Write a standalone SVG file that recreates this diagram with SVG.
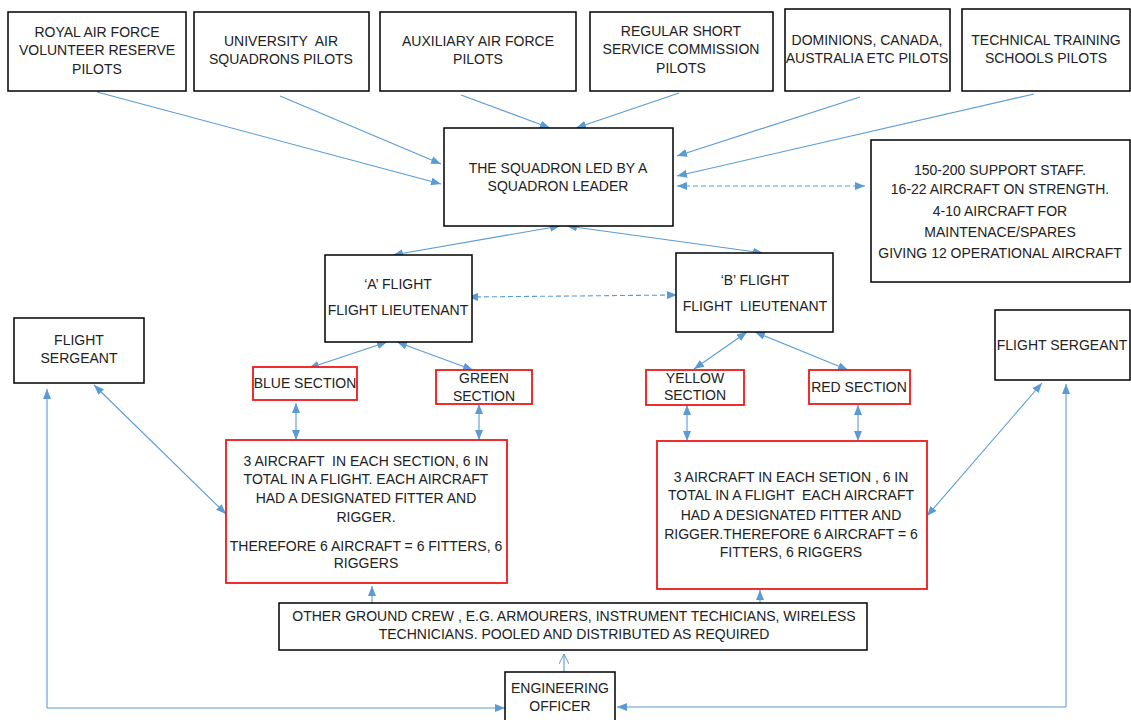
<svg xmlns="http://www.w3.org/2000/svg" width="1131" height="720" viewBox="0 0 1131 720">
  <style>
    text { font-family: "Liberation Sans", Arial, sans-serif; font-size: 14px; fill: #222; text-anchor: middle; }
    .box { fill: #fff; stroke: #000; stroke-width: 1.5; }
    .rbox { fill: #fff; stroke: #f01818; stroke-width: 1.8; }
    .ln { fill: none; stroke: #5b9bd5; stroke-width: 1.1; }
    .dash { stroke-dasharray: 5 3; }
    .pre { white-space: pre; }
  </style>
  <defs>
    <marker id="ah" viewBox="0 0 10 8" refX="10" refY="4" markerWidth="10" markerHeight="8" markerUnits="userSpaceOnUse" orient="auto-start-reverse">
      <path d="M0,0 L10,4 L0,8 Z" fill="#5b9bd5"/>
    </marker>
    <marker id="open" viewBox="0 0 10 10" refX="10" refY="5" markerWidth="10" markerHeight="10" markerUnits="userSpaceOnUse" orient="auto">
      <path d="M0,0 L10,5 L0,10" fill="none" stroke="#5b9bd5" stroke-width="1"/>
    </marker>
  </defs>

  <!-- connectors -->
  <g id="connectors">
    <line class="ln" x1="97" y1="92" x2="441" y2="184" marker-end="url(#ah)"/>
    <line class="ln" x1="280" y1="96" x2="441" y2="164" marker-end="url(#ah)"/>
    <line class="ln" x1="461" y1="95" x2="550" y2="128" marker-end="url(#ah)"/>
    <line class="ln" x1="679" y1="93" x2="576" y2="128" marker-end="url(#ah)"/>
    <line class="ln" x1="860" y1="97" x2="677" y2="156" marker-end="url(#ah)"/>
    <line class="ln" x1="1034" y1="94" x2="677" y2="176" marker-end="url(#ah)"/>
    <line class="ln dash" x1="677" y1="186" x2="865" y2="186" marker-start="url(#ah)" marker-end="url(#ah)"/>
    <line class="ln" x1="560" y1="226" x2="393" y2="255" marker-start="url(#ah)" marker-end="url(#ah)"/>
    <line class="ln" x1="567" y1="226" x2="763" y2="253" marker-start="url(#ah)" marker-end="url(#ah)"/>
    <line class="ln dash" x1="468" y1="297" x2="677" y2="295" marker-start="url(#ah)" marker-end="url(#ah)"/>
    <line class="ln" x1="387" y1="342" x2="309" y2="368" marker-start="url(#ah)" marker-end="url(#ah)"/>
    <line class="ln" x1="397" y1="342" x2="473" y2="370" marker-start="url(#ah)" marker-end="url(#ah)"/>
    <line class="ln" x1="296" y1="403" x2="296" y2="440" marker-start="url(#ah)" marker-end="url(#ah)"/>
    <line class="ln" x1="479" y1="404" x2="479" y2="440" marker-start="url(#ah)" marker-end="url(#ah)"/>
    <line class="ln" x1="747" y1="332" x2="694" y2="369" marker-start="url(#ah)" marker-end="url(#ah)"/>
    <line class="ln" x1="755" y1="332" x2="848" y2="370" marker-start="url(#ah)" marker-end="url(#ah)"/>
    <line class="ln" x1="687" y1="405" x2="687" y2="441" marker-start="url(#ah)" marker-end="url(#ah)"/>
    <line class="ln" x1="858" y1="405" x2="858" y2="441" marker-start="url(#ah)" marker-end="url(#ah)"/>
    <line class="ln" x1="94" y1="385" x2="226" y2="514" marker-start="url(#ah)" marker-end="url(#ah)"/>
    <line class="ln" x1="1042" y1="383" x2="927" y2="516" marker-start="url(#ah)" marker-end="url(#ah)"/>
    <polyline class="ln" points="47,708 47,389" marker-end="url(#ah)"/>
    <polyline class="ln" points="47,708 505,708" marker-end="url(#ah)"/>
    <polyline class="ln" points="1066,707 1066,384" marker-end="url(#ah)"/>
    <polyline class="ln" points="1066,707 617,707" marker-end="url(#ah)"/>
    <line class="ln" x1="372" y1="610" x2="372" y2="586" marker-end="url(#ah)"/>
    <line class="ln" x1="760" y1="617" x2="760" y2="590" marker-end="url(#ah)"/>
    <line class="ln" x1="564" y1="672" x2="564" y2="654" marker-end="url(#open)"/>
  </g>

  <!-- pilot sources -->
  <g id="rafvr">
    <rect class="box" x="8" y="12" width="178" height="79"/>
    <text x="97" y="37">ROYAL AIR FORCE</text>
    <text x="97" y="55">VOLUNTEER RESERVE</text>
    <text x="97" y="74">PILOTS</text>
  </g>
  <g id="uas">
    <rect class="box" x="194" y="12" width="175" height="79"/>
    <text x="281" y="46" class="pre">UNIVERSITY  AIR</text>
    <text x="281" y="64">SQUADRONS PILOTS</text>
  </g>
  <g id="aaf">
    <rect class="box" x="380" y="12" width="196" height="79"/>
    <text x="478" y="46">AUXILIARY AIR FORCE</text>
    <text x="478" y="64">PILOTS</text>
  </g>
  <g id="ssc">
    <rect class="box" x="590" y="12" width="183" height="79"/>
    <text x="681" y="36">REGULAR SHORT</text>
    <text x="681" y="54">SERVICE COMMISSION</text>
    <text x="681" y="73">PILOTS</text>
  </g>
  <g id="dominions">
    <rect class="box" x="785" y="9" width="165" height="82"/>
    <text x="867" y="45">DOMINIONS, CANADA,</text>
    <text x="867" y="63">AUSTRALIA ETC PILOTS</text>
  </g>
  <g id="tts">
    <rect class="box" x="962" y="9" width="168" height="82"/>
    <text x="1046" y="45">TECHNICAL TRAINING</text>
    <text x="1046" y="63">SCHOOLS PILOTS</text>
  </g>

  <!-- squadron -->
  <g id="squadron">
    <rect class="box" x="444" y="128" width="229" height="98"/>
    <text x="558" y="173">THE SQUADRON LED BY A</text>
    <text x="558" y="191">SQUADRON LEADER</text>
  </g>
  <g id="support">
    <rect class="box" x="871" y="140" width="259" height="142"/>
    <text x="1000" y="175">150-200 SUPPORT STAFF.</text>
    <text x="1000" y="194">16-22 AIRCRAFT ON STRENGTH.</text>
    <text x="1000" y="216">4-10 AIRCRAFT FOR</text>
    <text x="1000" y="237">MAINTENACE/SPARES</text>
    <text x="1000" y="258">GIVING 12 OPERATIONAL AIRCRAFT</text>
  </g>

  <!-- flights -->
  <g id="a-flight">
    <rect class="box" x="325" y="255" width="147" height="87"/>
    <text x="398" y="289">‘A’ FLIGHT</text>
    <text x="398" y="315">FLIGHT LIEUTENANT</text>
  </g>
  <g id="b-flight">
    <rect class="box" x="676" y="253" width="157" height="79"/>
    <text x="755" y="285">‘B’ FLIGHT</text>
    <text x="755" y="311" class="pre">FLIGHT  LIEUTENANT</text>
  </g>

  <!-- flight sergeants -->
  <g id="sergeant-left">
    <rect class="box" x="14" y="318" width="130" height="65"/>
    <text x="79" y="345">FLIGHT</text>
    <text x="79" y="363">SERGEANT</text>
  </g>
  <g id="sergeant-right">
    <rect class="box" x="995" y="310" width="135" height="70"/>
    <text x="1062" y="350">FLIGHT SERGEANT</text>
  </g>

  <!-- sections -->
  <g id="blue-section">
    <rect class="rbox" x="253" y="367" width="104" height="33"/>
    <text x="305" y="388">BLUE SECTION</text>
  </g>
  <g id="green-section">
    <rect class="rbox" x="436" y="370" width="96" height="34"/>
    <text x="484" y="383">GREEN</text>
    <text x="484" y="401">SECTION</text>
  </g>
  <g id="yellow-section">
    <rect class="rbox" x="646" y="370" width="98" height="35"/>
    <text x="695" y="383">YELLOW</text>
    <text x="695" y="400">SECTION</text>
  </g>
  <g id="red-section">
    <rect class="rbox" x="809" y="370" width="101" height="34"/>
    <text x="859" y="392">RED SECTION</text>
  </g>

  <!-- aircraft per flight -->
  <g id="a-aircraft">
    <rect class="rbox" x="226" y="440" width="281" height="143"/>
    <text x="366" y="466" class="pre">3 AIRCRAFT  IN EACH SECTION, 6 IN</text>
    <text x="366" y="484">TOTAL IN A FLIGHT. EACH AIRCRAFT</text>
    <text x="366" y="503">HAD A DESIGNATED FITTER AND</text>
    <text x="366" y="522">RIGGER.</text>
    <text x="366" y="551">THEREFORE 6 AIRCRAFT = 6 FITTERS, 6</text>
    <text x="366" y="568">RIGGERS</text>
  </g>
  <g id="b-aircraft">
    <rect class="rbox" x="657" y="441" width="270" height="148"/>
    <text x="791" y="482">3 AIRCRAFT IN EACH SETION , 6 IN</text>
    <text x="791" y="500" class="pre">TOTAL IN A FLIGHT  EACH AIRCRAFT</text>
    <text x="791" y="520">HAD A DESIGNATED FITTER AND</text>
    <text x="791" y="539">RIGGER.THEREFORE 6 AIRCRAFT = 6</text>
    <text x="791" y="557">FITTERS, 6 RIGGERS</text>
  </g>

  <!-- ground crew and engineering -->
  <g id="ground-crew">
    <rect class="box" x="279" y="603" width="588" height="47"/>
    <text x="574" y="621">OTHER GROUND CREW , E.G. ARMOURERS, INSTRUMENT TECHICIANS, WIRELESS</text>
    <text x="574" y="639">TECHNICIANS. POOLED AND DISTRIBUTED AS REQUIRED</text>
  </g>
  <g id="engineering-officer">
    <rect class="box" x="505" y="672" width="110" height="55"/>
    <text x="560" y="693">ENGINEERING</text>
    <text x="560" y="711">OFFICER</text>
  </g>
</svg>
